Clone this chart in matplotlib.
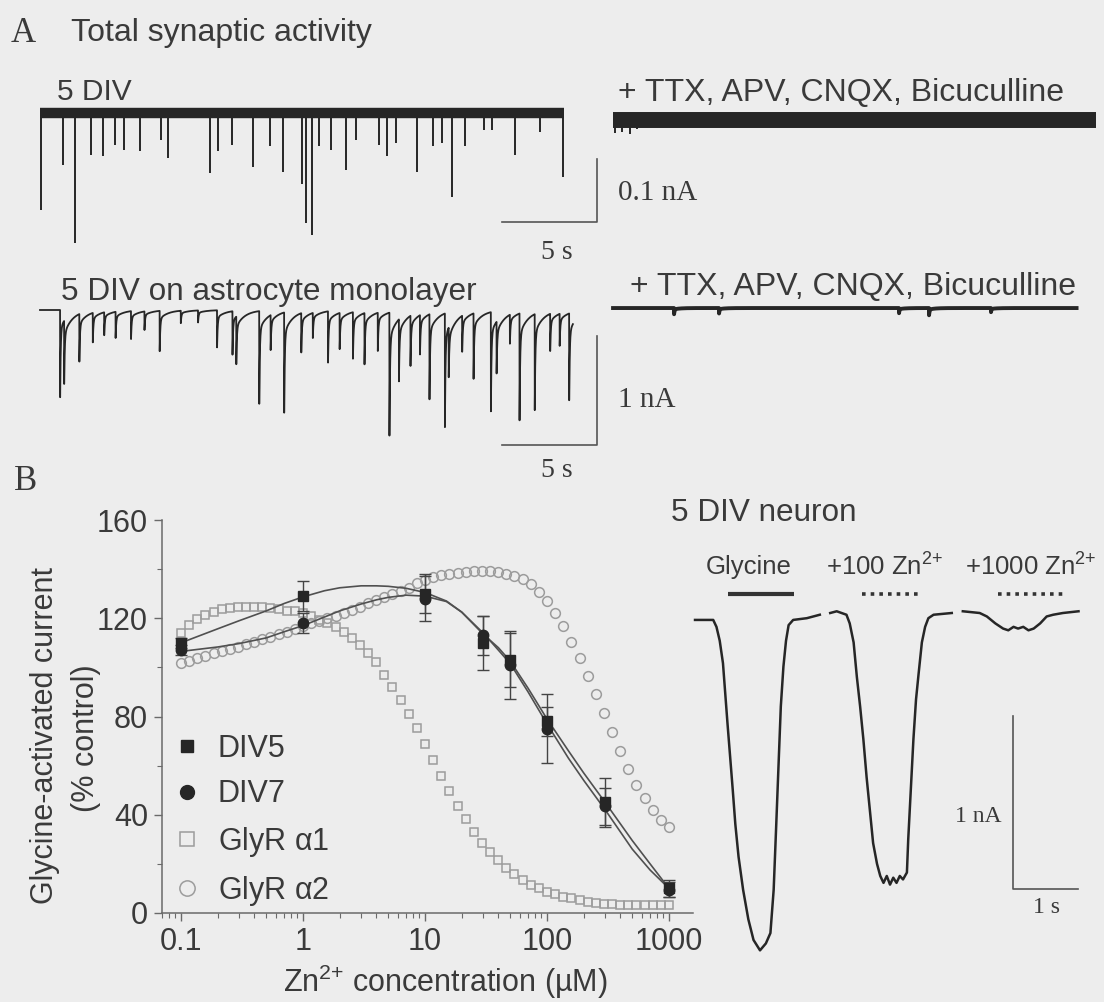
import numpy as np
import matplotlib.pyplot as plt
from matplotlib.lines import Line2D
from matplotlib.ticker import LogLocator, NullFormatter, MultipleLocator

plt.rcParams['font.family'] = ['Liberation Sans', 'DejaVu Sans']
plt.rcParams['mathtext.fontset'] = 'custom'
plt.rcParams['mathtext.rm'] = 'Liberation Sans'
plt.rcParams['mathtext.default'] = 'regular'

W, H = 1104, 1002
BG = '#ededed'
INK = '#262626'
TXT = '#3a3a3a'
GREY = '#9c9c9c'
SERIF = ['Liberation Serif', 'DejaVu Serif']

# ---------------- panel A : spontaneous synaptic currents ----------------
# 5 DIV (glass): spike times (s) and peak amplitudes (nA)
div5_t = [0.07, 1.22, 1.82, 2.67, 3.29, 3.94, 4.44, 5.25, 6.35, 6.76, 8.97, 9.37,
          10.08, 11.19, 12.09, 12.80, 13.81, 14.01, 14.31, 14.71, 15.32, 16.12,
          16.63, 17.84, 18.24, 18.74, 19.85, 20.66, 21.16, 21.66, 22.37, 23.37,
          23.78, 24.99, 26.29, 27.50]
div5_amp = [0.154, 0.083, 0.207, 0.067, 0.069, 0.051, 0.059, 0.061, 0.043, 0.072,
            0.096, 0.061, 0.051, 0.085, 0.053, 0.093, 0.112, 0.175, 0.194, 0.053,
            0.059, 0.090, 0.043, 0.051, 0.069, 0.048, 0.093, 0.053, 0.048, 0.133,
            0.053, 0.027, 0.027, 0.067, 0.030, 0.101]

# 5 DIV on astrocytes: event times (s) and amplitudes (nA)
astro_t = [1.06, 1.27, 2.07, 2.78, 3.38, 3.98, 4.79, 5.50, 6.30, 7.41, 8.32, 9.32,
           10.13, 10.33, 11.54, 12.14, 12.85, 13.75, 14.36, 15.16, 15.77, 16.47,
           17.08, 17.78, 18.39, 18.89, 19.50, 20.00, 20.50, 21.31, 21.51, 22.22,
           22.82, 23.73, 24.03, 24.73, 25.24, 26.04, 26.85, 27.35, 27.85]
astro_amp = [0.80, 0.61, 0.46, 0.27, 0.21, 0.24, 0.27, 0.17, 0.37, 0.12, 0.11, 0.34,
             0.42, 0.46, 0.85, 0.32, 0.97, 0.38, 0.23, 0.47, 0.35, 0.45, 0.47, 0.35,
             1.19, 0.60, 0.46, 0.36, 0.78, 1.10, 0.48, 0.33, 0.60, 0.96, 0.50, 0.28,
             0.98, 0.88, 0.36, 0.31, 0.84]

# after TTX/APV/CNQX/bicuculline (times relative to start of trace)
ttx1_t = [0.10, 0.47, 0.89, 1.26]
ttx1_amp = [0.032, 0.030, 0.034, 0.026]
ttx2_t = [3.21, 5.58, 15.05, 16.63, 19.89]
ttx2_amp = [0.06, 0.05, 0.05, 0.07, 0.04]

# ---------------- panel B : Zn2+ dose response ----------------
conc = [0.1, 1, 10, 30, 50, 100, 300, 1000]
div5_mean = [110, 129, 130, 110, 103, 78, 45, 10]
div5_err = [2, 6, 8, 11, 11, 6, 10, 3.5]
div7_mean = [107, 118, 128, 113, 101, 75, 43.5, 9.5]
div7_err = [2, 4, 9, 8, 14, 14, 7.5, 3]

fit_conc = [0.1, 0.2, 0.3, 0.5, 0.7, 1, 1.5, 2, 3, 4, 5, 7, 10, 15, 20, 30, 40, 50,
            70, 100, 150, 200, 300, 500, 700, 1000]
fit_div5 = [110, 115.7, 119, 123, 126, 128.7, 131.2, 132.4, 133.2, 133.2, 133, 132.2,
            130.5, 127, 122.5, 113.5, 108, 102.5, 91.5, 79, 66, 57, 45, 29.5, 20, 10]
fit_div7 = [106.5, 108.3, 109.7, 112, 114.5, 117, 120.5, 123, 125.8, 127.5, 128.5,
            129.4, 129, 126.8, 122.5, 114, 107, 101.5, 90, 77, 63, 54, 42, 26, 17.5, 10]

glyr_conc = [0.1, 0.117, 0.136, 0.158, 0.185, 0.215, 0.251, 0.293, 0.341, 0.398,
             0.464, 0.541, 0.631, 0.736, 0.858, 1, 1.17, 1.36, 1.58, 1.85, 2.15,
             2.51, 2.93, 3.41, 3.98, 4.64, 5.41, 6.31, 7.36, 8.58, 10, 11.7, 13.6,
             15.8, 18.5, 21.5, 25.1, 29.3, 34.1, 39.8, 46.4, 54.1, 63.1, 73.6, 85.8,
             100, 117, 136, 158, 185, 215, 251, 293, 341, 398, 464, 541, 631, 736,
             858, 1000]
glyr_a1 = [114, 117.3, 119.7, 121.3, 122.6, 123.8, 124.2, 124.6, 124.6, 124.6, 124.6,
           124.2, 123.8, 123, 122.8, 122, 121, 119.3, 118, 116.4, 114.4, 112, 109,
           106, 102, 97, 92, 86.7, 81, 75.3, 68.8, 62.3, 55.8, 49.7, 43.6, 38.3, 33,
           28.5, 24.8, 21.6, 18.3, 15.9, 13.4, 11.4, 10.2, 8.6, 7.7, 6.5, 6.1, 5.3,
           4.5, 4.1, 3.7, 3.7, 3.3, 3.3, 3.3, 3.3, 3.3, 3.3, 3.3]
glyr_a2 = [101.8, 102.6, 103.8, 104.6, 105.9, 106.7, 107.5, 108.3, 109.5, 110.3,
           111.6, 112.4, 113.6, 114.4, 115.6, 116.9, 118, 118.9, 120.1, 120.9, 122.1,
           123.4, 124.6, 126.2, 127.4, 128.7, 129.9, 131, 132.5, 134.5, 135.6, 136.8,
           137.6, 138.2, 138.6, 139, 139.2, 139.2, 139.2, 138.8, 138.2, 137.2, 136,
           134, 130.5, 127, 122, 117, 110.5, 104, 96.5, 89, 81.5, 73.5, 66, 58.8,
           52.2, 47, 42, 38, 35]

# 5 DIV neuron, glycine responses (time s, current nA)
gly_t = [0, 0.28, 0.33, 0.38, 0.43, 0.46, 0.50, 0.54, 0.58, 0.62, 0.67, 0.74, 0.82,
         0.90, 1.00, 1.09, 1.16, 1.21, 1.25, 1.29, 1.32, 1.36, 1.40, 1.44, 1.51,
         1.72, 1.92]
gly_i = [0, 0, -0.04, -0.12, -0.25, -0.40, -0.60, -0.79, -0.98, -1.18, -1.37, -1.56,
         -1.73, -1.85, -1.91, -1.87, -1.81, -1.56, -1.18, -0.79, -0.50, -0.27,
         -0.12, -0.03, 0, 0.01, 0.03]
zn100_t = [2.08, 2.18, 2.33, 2.38, 2.44, 2.49, 2.54, 2.59, 2.64, 2.69, 2.74, 2.80,
           2.85, 2.90, 2.95, 3.00, 3.05, 3.10, 3.15, 3.20, 3.26, 3.28, 3.32, 3.36,
           3.40, 3.44, 3.49, 3.54, 3.59, 3.67, 3.95]
zn100_i = [0.04, 0.05, 0.03, -0.02, -0.13, -0.33, -0.50, -0.69, -0.91, -1.10, -1.29,
           -1.41, -1.48, -1.52, -1.48, -1.53, -1.49, -1.52, -1.48, -1.50, -1.46,
           -1.27, -0.98, -0.69, -0.46, -0.31, -0.13, -0.04, 0.01, 0.03, 0.04]
zn1000_t = [4.12, 4.38, 4.49, 4.62, 4.74, 4.82, 4.90, 4.97, 5.05, 5.13, 5.21, 5.31,
            5.41, 5.51, 5.66, 5.90]
zn1000_i = [0.05, 0.04, 0.02, -0.02, -0.05, -0.06, -0.04, -0.05, -0.04, -0.06,
            -0.05, -0.02, 0.02, 0.03, 0.04, 0.05]

fig = plt.figure(figsize=(W / 100, H / 100), dpi=100, facecolor=BG)


def px_axes(x0, y0, x1, y1):
    ax = fig.add_axes([x0 / W, 1 - y1 / H, (x1 - x0) / W, (y1 - y0) / H])
    ax.set_facecolor('none')
    return ax


def ftext(x, y, s, size=22, **kw):
    kw.setdefault('color', TXT)
    kw.setdefault('va', 'center')
    fig.text(x / W, 1 - y / H, s, fontsize=size, **kw)


def trace_axes(y0, y1, t0_px, px_per_s, base_px, px_per_na):
    ax = px_axes(0, y0, W, y1)
    ax.set_xlim(-t0_px / px_per_s, (W - t0_px) / px_per_s)
    ax.set_ylim(-(y1 - base_px) / px_per_na, (base_px - y0) / px_per_na)
    ax.axis('off')
    return ax


def events(t, times, amps, fast, slow, frac):
    cur = np.zeros_like(t)
    for te, a in zip(times, amps):
        d = t - te
        on = d >= 0
        cur[on] -= a * ((1 - frac) * np.exp(-d[on] / fast) + frac * np.exp(-d[on] / slow))
    return cur


# ---- A, row 1
ftext(11, 33, 'A', 25, family=SERIF)
ftext(71, 33, 'Total synaptic activity', 23)
ftext(57, 92, '5 DIV', 21.5)
ftext(618, 93, '+ TTX, APV, CNQX, Bicuculline', 23)

a1 = trace_axes(60, 300, 40, 19, 113, 630)
a1.plot([0, 27.6], [0, 0], color=INK, lw=7.5, solid_capstyle='butt')
a1.vlines(div5_t, 0, -np.array(div5_amp), color=INK, lw=1.4)
r0 = 30.16
a1.plot([r0, r0 + 25.4], [-0.011, -0.011], color=INK, lw=11.5, solid_capstyle='butt')
a1.vlines(np.array(ttx1_t) + r0, -0.011, -np.array(ttx1_amp), color=INK, lw=1.4)
a1.plot([24.32, 29.32, 29.32], [-0.173, -0.173, -0.073], color='#555555', lw=1.2)
a1.text(30.4, -0.127, '0.1 nA', fontsize=21, family=SERIF, color=TXT, va='center')
a1.text(27.2, -0.221, '5 s', fontsize=20, family=SERIF, color=TXT, va='center', ha='center')

# ---- A, row 2
ftext(61, 292, '5 DIV on astrocyte monolayer', 22.7)
ftext(630, 287, '+ TTX, APV, CNQX, Bicuculline', 23)

a2 = trace_axes(300, 480, 40, 19, 310, 109)
t_a = np.arange(0.0, 28.05, 0.004)
a2.plot(t_a, events(t_a, astro_t, astro_amp, 0.03, 0.45, 0.2), color=INK, lw=1.3)
t_b = np.arange(0.0, 24.4, 0.004)
a2.plot(t_b + r0, 0.018 + events(t_b, ttx2_t, ttx2_amp, 0.03, 0.3, 0.2), color=INK, lw=2.8)
a2.plot([24.32, 29.32, 29.32], [-1.24, -1.24, -0.24], color='#555555', lw=1.2)
a2.text(30.4, -0.826, '1 nA', fontsize=21, family=SERIF, color=TXT, va='center')
a2.text(27.2, -1.468, '5 s', fontsize=20, family=SERIF, color=TXT, va='center', ha='center')

# ---- B, dose response
ftext(14, 481, 'B', 25, family=SERIF)
ax = px_axes(162, 520, 693, 913)
ax.set_xscale('log')
ax.set_xlim(0.0699, 1573)
ax.set_ylim(0, 160)

ax.plot(glyr_conc, glyr_a1, ls='none', marker='s', ms=6.2, mfc='none', mec=GREY, mew=1.1)
ax.plot(glyr_conc, glyr_a2, ls='none', marker='o', ms=7, mfc='none', mec=GREY, mew=1.1)
ax.plot(fit_conc, fit_div5, color='#505050', lw=1.2)
ax.plot(fit_conc, fit_div7, color='#505050', lw=1.2)
ax.errorbar(conc, div5_mean, yerr=div5_err, fmt='s', ms=7, color=INK, ecolor='#444444',
            elinewidth=1, capsize=4, capthick=1)
ax.errorbar(conc, div7_mean, yerr=div7_err, fmt='o', ms=7.5, color=INK, ecolor='#444444',
            elinewidth=1, capsize=4, capthick=1)

for side in ['top', 'right']:
    ax.spines[side].set_visible(False)
for side in ['left', 'bottom']:
    ax.spines[side].set_color('#6a6a6a')
    ax.spines[side].set_linewidth(1.1)
ax.set_xticks([0.1, 1, 10, 100, 1000])
ax.set_xticklabels(['0.1', '1', '10', '100', '1000'])
ax.xaxis.set_minor_locator(LogLocator(base=10, subs=np.arange(2, 10)))
ax.xaxis.set_minor_formatter(NullFormatter())
ax.set_yticks([0, 40, 80, 120, 160])
ax.yaxis.set_minor_locator(MultipleLocator(20))
ax.tick_params(which='major', length=6, width=1, color='#6a6a6a', labelsize=22,
               labelcolor=TXT, pad=4)
ax.tick_params(which='minor', length=3.5, width=0.8, color='#6a6a6a')

handles = [
    Line2D([], [], ls='none', marker='s', ms=9, color=INK),
    Line2D([], [], ls='none', marker='o', ms=10, color=INK),
    Line2D([], [], ls='none', marker='s', ms=10, mfc='none', mec=GREY, mew=1.1),
    Line2D([], [], ls='none', marker='o', ms=11, mfc='none', mec=GREY, mew=1.1),
]
ax.legend(handles, ['DIV5', 'DIV7', r'GlyR $\alpha$1', r'GlyR $\alpha$2'],
          loc='upper left', bbox_to_anchor=(0.019, 0.455), frameon=False,
          fontsize=22, handlelength=1.0, handletextpad=0.5, labelspacing=0.5,
          borderpad=0, borderaxespad=0, labelcolor=TXT)

ftext(45, 735, 'Glycine-activated current', 22, rotation=90, ha='center')
ftext(86, 738, '(% control)', 22, rotation=90, ha='center')
ftext(445, 982, 'Zn$^{2{+}}$ concentration (\u00b5M)', 22, ha='center')

# ---- B, example glycine currents
ftext(671, 513, '5 DIV neuron', 22.7)
ar = px_axes(680, 540, W, 1000)
ar.set_xlim(-0.231, 6.292)
ar.set_ylim(-2.197, 0.462)
ar.axis('off')
ar.plot(gly_t, gly_i, color=INK, lw=1.8)
ar.plot(zn100_t, zn100_i, color=INK, lw=1.8)
ar.plot(zn1000_t, zn1000_i, color=INK, lw=1.8)
ar.plot([0.51, 1.52], [0.15, 0.15], color='#333333', lw=3, solid_capstyle='butt')
ar.plot([2.57, 3.48], [0.15, 0.15], color='#333333', lw=2.6, ls=(0, (1, 1.4)))
ar.plot([4.66, 5.72], [0.15, 0.15], color='#333333', lw=2.6, ls=(0, (1, 1.4)))
ar.text(0.83, 0.306, 'Glycine', fontsize=18.5, color=TXT, ha='center', va='center')
ar.text(2.92, 0.306, '+100 Zn$^{2{+}}$', fontsize=18.5, color=TXT, ha='center', va='center')
ar.text(5.17, 0.306, '+1000 Zn$^{2{+}}$', fontsize=18.5, color=TXT, ha='center', va='center')
ar.plot([4.89, 4.89, 5.89], [-0.555, -1.555, -1.555], color='#555555', lw=1.2)
ar.text(4.72, -1.139, '1 nA', fontsize=17, family=SERIF, color=TXT, ha='right', va='center')
ar.text(5.40, -1.665, '1 s', fontsize=17, family=SERIF, color=TXT, ha='center', va='center')

fig.savefig('out.png', dpi=100, facecolor=BG)
